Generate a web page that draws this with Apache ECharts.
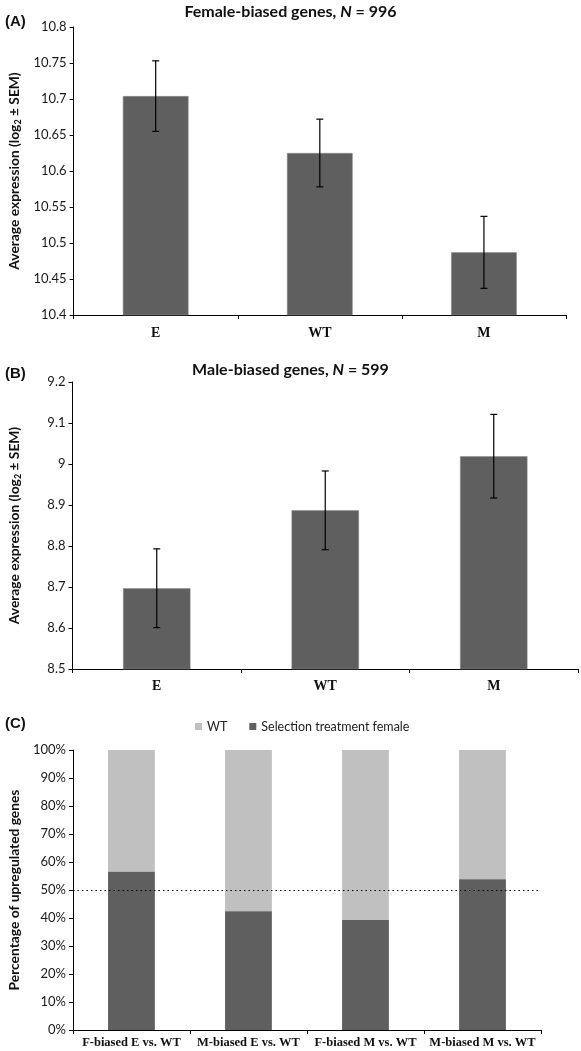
<!DOCTYPE html>
<html>
<head>
<meta charset="utf-8">
<script src="https://cdn.jsdelivr.net/npm/echarts@6/dist/echarts.min.js"></script>
<style>
html,body{margin:0;padding:0;background:#fff;}
#c{width:581px;height:1051px;}
</style>
</head>
<body>
<div id="c"></div>
<script>
// ---- data ----
const groupCats = ['E', 'WT', 'M'];
const femaleMean = [10.704, 10.625, 10.487];
const femaleSem = [0.049, 0.047, 0.050];
const maleMean = [8.697, 8.887, 9.019];
const maleSem = [0.096, 0.096, 0.102];
const compCats = ['F-biased E vs. WT', 'M-biased E vs. WT', 'F-biased M vs. WT', 'M-biased M vs. WT'];
const selectionPct = [56.5, 42.4, 39.3, 53.8];
const wtPct = [43.5, 57.6, 60.7, 46.2];

const DARK = '#5f5f5f', LIGHT = '#c0c0c0';
const SANS = 'Lato';
const SERIF = 'Liberation Serif';

const chart = echarts.init(document.getElementById('c'), null, {renderer: 'canvas'});

function errRender(params, api) {
  const x = api.value(0);
  const p1 = api.coord([x, api.value(1)]);
  const p2 = api.coord([x, api.value(2)]);
  const w = 3.5;
  const st = {stroke: '#000', lineWidth: 1.2};
  return {type: 'group', children: [
    {type: 'line', shape: {x1: p1[0], y1: p1[1], x2: p2[0], y2: p2[1]}, style: st},
    {type: 'line', shape: {x1: p1[0] - w, y1: p1[1], x2: p1[0] + w, y2: p1[1]}, style: st},
    {type: 'line', shape: {x1: p2[0] - w, y1: p2[1], x2: p2[0] + w, y2: p2[1]}, style: st}
  ]};
}

const numFmt = v => String(+v.toFixed(2));

function yAx(gi, min, max, interval, fmt) {
  return {
    type: 'value', gridIndex: gi, min: min, max: max, interval: interval,
    axisLine: {show: true, lineStyle: {color: '#000', width: 1}},
    axisTick: {show: true, length: 4, lineStyle: {color: '#000'}},
    splitLine: {show: false},
    axisLabel: {fontFamily: SANS, fontSize: 13, color: '#1a1a1a', margin: 7, formatter: fmt},
    nameLocation: 'middle', nameRotate: 90, nameGap: 50,
  };
}
function xAx(gi, data, margin, fs) {
  return {
    type: 'category', gridIndex: gi, data: data,
    axisLine: {show: true, lineStyle: {color: '#000', width: 1}},
    axisTick: {show: true, length: 4, lineStyle: {color: '#000'}},
    axisLabel: {fontFamily: SERIF, fontWeight: 'bold', fontSize: fs, color: '#111', margin: margin, interval: 0}
  };
}

const yNameRich = {
  a: {fontFamily: SANS, fontWeight: 'bold', fontSize: 13.8, color: '#111'},
  s: {fontFamily: SANS, fontWeight: 'bold', fontSize: 9, color: '#111', padding: [6, 0, 0, 0]}
};
const yNameAB = '{a|Average expression (log}{s|2}{a| ± SEM)}';

const titleRich = {
  a: {fontFamily: SANS, fontWeight: 'bold', fontSize: 16, color: '#111'},
  i: {fontFamily: SANS, fontWeight: 'bold', fontStyle: 'italic', fontSize: 16, color: '#111'}
};

const ya = yAx(0, 10.4, 10.8, 0.05, numFmt);
ya.name = yNameAB; ya.nameTextStyle = {rich: yNameRich}; ya.nameGap = 51;
const yb = yAx(1, 8.5, 9.2, 0.1, numFmt);
yb.name = yNameAB; yb.nameTextStyle = {rich: yNameRich};
const yc = yAx(2, 0, 100, 10, '{value}%');
yc.name = 'Percentage of upregulated genes';
yc.nameTextStyle = {fontFamily: SANS, fontWeight: 'bold', fontSize: 13.8, color: '#111'};

chart.setOption({
  animation: false,
  backgroundColor: '#fff',
  title: [
    {text: '{a|Female-biased genes, }{i|N}{a| = 996}', left: 'center', top: -1, textStyle: {rich: titleRich}},
    {text: '{a|Male-biased genes, }{i|N}{a| = 599}', left: 'center', top: 357, textStyle: {rich: titleRich}},
    {text: '(A)', left: 0, top: 9, textStyle: {fontFamily: 'Liberation Sans', fontWeight: 'bold', fontSize: 15, color: '#111'}},
    {text: '(B)', left: 0, top: 361, textStyle: {fontFamily: 'Liberation Sans', fontWeight: 'bold', fontSize: 15, color: '#111'}},
    {text: '(C)', left: 0, top: 711, textStyle: {fontFamily: 'Liberation Sans', fontWeight: 'bold', fontSize: 15, color: '#111'}}
  ],
  legend: {
    data: ['WT', 'Selection treatment female'],
    left: 190, top: 715, icon: 'rect', itemWidth: 7, itemHeight: 7, itemGap: 22,
    textStyle: {fontFamily: SANS, fontSize: 12.5, color: '#222'}
  },
  grid: [
    {left: 63, top: 27, width: 503, height: 288},
    {left: 62, top: 382, width: 516, height: 287},
    {left: 62, top: 750, width: 479, height: 280}
  ],
  xAxis: [xAx(0, groupCats, 11, 14), xAx(1, groupCats, 10, 14), xAx(2, compCats, 6, 12.5)],
  yAxis: [ya, yb, yc],
  series: [
    {type: 'bar', xAxisIndex: 0, yAxisIndex: 0, data: femaleMean, barWidth: '40%',
      itemStyle: {color: DARK, borderColor: '#8c8c8c', borderWidth: 0.5}},
    {type: 'custom', xAxisIndex: 0, yAxisIndex: 0, renderItem: errRender, z: 5,
      data: femaleMean.map((m, i) => [i, m + femaleSem[i], m - femaleSem[i]])},
    {type: 'bar', xAxisIndex: 1, yAxisIndex: 1, data: maleMean, barWidth: '40%',
      itemStyle: {color: DARK, borderColor: '#8c8c8c', borderWidth: 0.5}},
    {type: 'custom', xAxisIndex: 1, yAxisIndex: 1, renderItem: errRender, z: 5,
      data: maleMean.map((m, i) => [i, m + maleSem[i], m - maleSem[i]])},
    {type: 'bar', name: 'Selection treatment female', xAxisIndex: 2, yAxisIndex: 2, stack: 'c',
      data: selectionPct, barWidth: '40%', itemStyle: {color: DARK},
      markLine: {silent: true, symbol: 'none', label: {show: false},
        lineStyle: {color: '#000', type: [1.5, 3], width: 1.2},
        data: [{yAxis: 50}]}, z: 3},
    {type: 'bar', name: 'WT', xAxisIndex: 2, yAxisIndex: 2, stack: 'c',
      data: wtPct, barWidth: '40%', itemStyle: {color: LIGHT}, z: 2}
  ]
});
</script>
</body>
</html>
